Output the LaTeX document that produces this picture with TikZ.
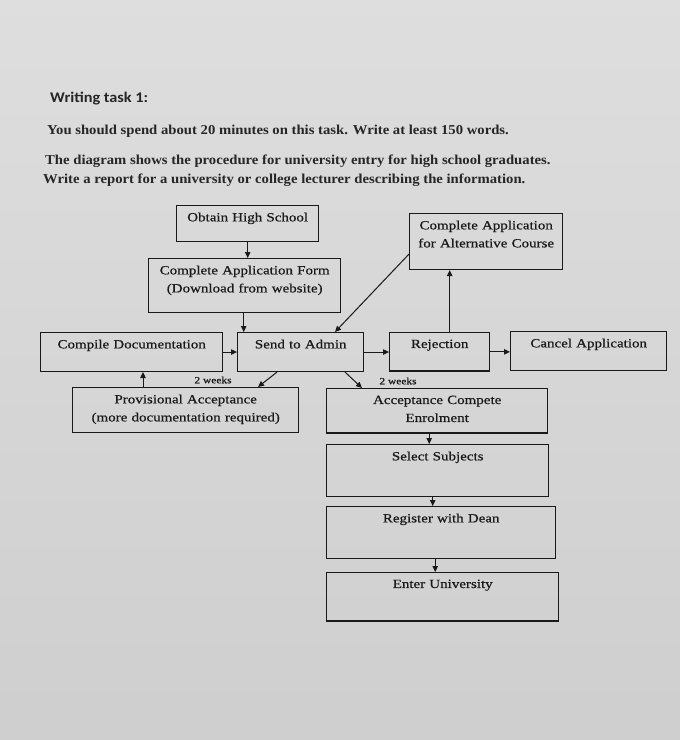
\documentclass[tikz,border=0pt]{standalone}
\usepackage{fontspec}
\setmainfont{Liberation Serif}
\newfontfamily\headfont[FakeStretch=1.1]{Carlito}
\newfontfamily\taskfont[FakeStretch=1.08]{Liberation Serif}
\newfontfamily\boxfont[FakeStretch=1.2,FakeBold=0.6]{Liberation Serif}
\usetikzlibrary{arrows.meta,calc}

\begin{document}
\begin{tikzpicture}[
	x=1pt, y=-1pt,
	box/.style={
		draw=black!90,
		line width=1.4pt,
		anchor=north west,
		align=center,
		inner xsep=2pt,
		inner ysep=7pt,
		text=black!90,
		font=\boxfont\fontsize{12.5}{18}\selectfont
	},
	task/.style={
		anchor=base west,
		inner sep=0pt,
		text=black!85,
		font=\taskfont\bfseries\fontsize{13.6}{16}\selectfont
	},
	flow/.style={
		draw=black!90,
		line width=1pt,
		-{Triangle[length=6pt,width=5.5pt]}
	},
	weeks/.style={
		inner sep=0pt,
		text=black!90,
		font=\boxfont\fontsize{9.5}{11}\selectfont
	},
]

% page
\useasboundingbox (0,0) rectangle (680,740);
\shade[top color=black!13, bottom color=black!19] (0,0) rectangle (680,740);

% task text
\node[task, font=\headfont\bfseries\fontsize{14.8}{16}\selectfont] (title) at (50,102) {Writing task 1:};
\node[task] (time) at (47,134) {You should spend about 20 minutes on this task. Write at least 150 words.};
\node[task] (shows) at (45,164) {The diagram shows the procedure for university entry for high school graduates.};
\node[task] (report) at (43,183) {Write a report for a university or college lecturer describing the information.};

% boxes
\node[box, text width=138pt, text depth=13pt] (obtain) at (176,205) {Obtain High School};
\node[box, text width=188pt, text depth=31pt] (form) at (148,258) {Complete Application Form\\(Download from website)};
\node[box, text width=149pt, text depth=33pt] (alt) at (409,213) {Complete Application\\for Alternative Course};

\node[box, text width=178pt, text depth=16pt] (compile) at (40,332) {Compile Documentation};
\node[box, text width=122pt, text depth=16pt] (send) at (237,332) {Send to Admin};
\node[box, text width=96pt, text depth=16pt] (reject) at (389,332) {Rejection};
\node[box, text width=152pt, text depth=16pt] (cancel) at (510,331) {Cancel Application};

\node[box, text width=222pt, text depth=22pt] (prov) at (72,387) {Provisional Acceptance\\(more documentation required)};
\node[box, text width=217pt, text depth=22pt] (accept) at (326,388) {Acceptance Compete\\Enrolment};
\node[box, text width=218pt, text depth=29pt] (subjects) at (326,444) {Select Subjects};
\node[box, text width=225pt, text depth=29pt] (dean) at (326,506) {Register with Dean};
\node[box, text width=228pt, text depth=26pt] (enter) at (326,572) {Enter University};

% connector ends
\coordinate (formout) at ($(form.south)+(-1,0)$);
\coordinate (altin) at ($(alt.south west)+(0,-16)$);
\coordinate (sendin) at ($(send.north west)+(98,0)$);
\coordinate (rejectout) at ($(reject.north)+(10,0)$);
\coordinate (provout) at ($(prov.north west)+(71,0)$);
\coordinate (sendleft) at ($(send.south west)+(40,0)$);
\coordinate (provin) at ($(prov.north west)+(186,0)$);
\coordinate (sendright) at ($(send.south west)+(108,0)$);
\coordinate (acceptin) at ($(accept.north west)+(36,0)$);
\coordinate (acceptout) at ($(accept.south)+(-8,0)$);
\coordinate (subjectsout) at ($(subjects.south)+(-5,0)$);
\coordinate (deanout) at ($(dean.south)+(-6,0)$);

% connectors
\draw[flow] (obtain.south) -- (obtain.south |- form.north);
\draw[flow] (formout) -- (formout |- send.north);
\draw[flow] (altin) -- (sendin);
\draw[flow] (rejectout) -- (rejectout |- alt.south);
\draw[flow] (compile.east) -- (compile.east -| send.west);
\draw[flow] (send.east) -- (send.east -| reject.west);
\draw[flow] (reject.east) -- (reject.east -| cancel.west);
\draw[flow] (provout) -- (provout |- compile.south);
\draw[flow] (sendleft) -- (provin);
\draw[flow] (sendright) -- (acceptin);
\draw[flow] (acceptout) -- (acceptout |- subjects.north);
\draw[flow] (subjectsout) -- (subjectsout |- dean.north);
\draw[flow] (deanout) -- (deanout |- enter.north);

% labels
\node[weeks] (weeksprov) at (213,380) {2 weeks};
\node[weeks] (weeksacc) at (398,381) {2 weeks};

\end{tikzpicture}
\end{document}
